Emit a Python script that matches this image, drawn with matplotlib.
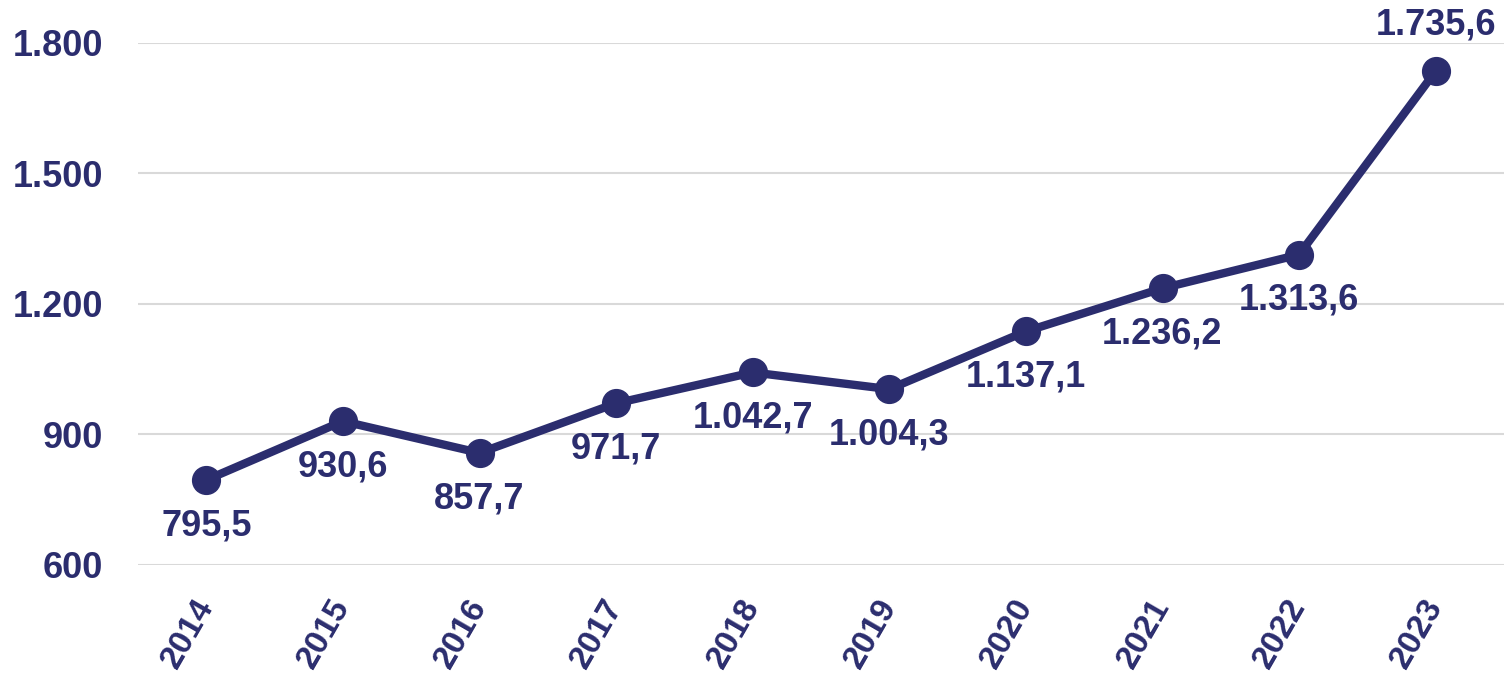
import matplotlib
matplotlib.use("Agg")
import matplotlib.pyplot as plt

years = ["2014", "2015", "2016", "2017", "2018", "2019", "2020", "2021", "2022", "2023"]
values = [795.5, 930.6, 857.7, 971.7, 1042.7, 1004.3, 1137.1, 1236.2, 1313.6, 1735.6]
labels = ["795,5", "930,6", "857,7", "971,7", "1.042,7", "1.004,3", "1.137,1", "1.236,2", "1.313,6", "1.735,6"]
yticks = [600, 900, 1200, 1500, 1800]
ytick_labels = ["600", "900", "1.200", "1.500", "1.800"]

color = "#2B2D6E"
plt.rcParams['font.family'] = ['Liberation Sans', 'DejaVu Sans']

fig = plt.figure(figsize=(15.05, 6.75), dpi=100)
ax = fig.add_axes([138/1505, 1-565/675, (1504-138)/1505, (565-43)/675])

x = list(range(len(years)))
ax.plot(x, values, color=color, lw=6, marker='o', markersize=20, solid_capstyle='round', zorder=3, clip_on=False)

for i, (v, lab) in enumerate(zip(values, labels)):
    if i == len(values) - 1:
        ax.annotate(lab, (i, v), xytext=(0, 33), textcoords='offset points', ha='center', va='center',
                    fontsize=26, fontweight='bold', color=color)
    else:
        ax.annotate(lab, (i, v), xytext=(0, -33), textcoords='offset points', ha='center', va='center',
                    fontsize=26, fontweight='bold', color=color)

ax.set_xlim(-0.5, len(years) - 0.5)
ax.set_ylim(600, 1800)
ax.set_yticks(yticks)
ax.set_yticklabels(ytick_labels, fontsize=26, fontweight='bold', color=color)
ax.set_xticks(x)
ax.set_xticklabels(years, fontsize=24, fontweight='bold', color=color, rotation=60,
                   ha='right', va='center', rotation_mode='anchor')
ax.tick_params(axis='both', length=0)
ax.tick_params(axis='y', pad=25)
ax.tick_params(axis='x', pad=26)
ax.grid(axis='y', color='#D9D9D9', lw=1.5)
ax.set_axisbelow(True)
for s in ax.spines.values():
    s.set_visible(False)

fig.savefig("out.png", dpi=100)
